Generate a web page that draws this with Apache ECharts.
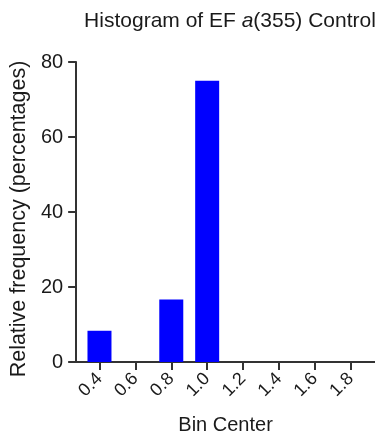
<!DOCTYPE html>
<html>
<head>
<meta charset="utf-8">
<script src="https://cdn.jsdelivr.net/npm/echarts@6/dist/echarts.min.js"></script>
<style>
html,body{margin:0;padding:0;background:#fff;}
#chart{width:375px;height:446px;}
</style>
</head>
<body>
<div id="chart"></div>
<script>
const binCenters = [0.4, 0.6, 0.8, 1.0, 1.2, 1.4, 1.6, 1.8];
const relFreq = [8.33, 0, 16.67, 75, 0, 0, 0, 0];
const yTicks = [0, 20, 40, 60, 80];
const xTickValues = [0.4, 0.6, 0.8, 1.0, 1.2, 1.4, 1.6, 1.8];

const FONT = 'Liberation Sans, Arial, Helvetica, sans-serif';
const AX = '#333333';

const chart = echarts.init(document.getElementById('chart'), null, {renderer: 'canvas'});
chart.setOption({
  animation: false,
  backgroundColor: '#ffffff',
  title: {
    text: '{n|Histogram of EF }{i|a}{n|(355) Control}',
    left: 225, textAlign: 'center',
    top: 6,
    textStyle: {
      fontWeight: 'normal',
      rich: {
        n: {fontFamily: FONT, fontSize: 21, fontWeight: 'normal', color: '#1a1a1a'},
        i: {fontFamily: FONT, fontSize: 21, fontWeight: 'normal', fontStyle: 'italic', color: '#1a1a1a'}
      }
    }
  },
  grid: {left: 76, right: 0, top: 62, bottom: 84, containLabel: false},
  xAxis: {
    type: 'value',
    min: 0.27, max: 1.935,
    name: 'Bin Center', nameLocation: 'middle', nameGap: 53,
    nameTextStyle: {fontFamily: FONT, fontSize: 20, color: '#1a1a1a'},
    axisLine: {show: true, lineStyle: {color: AX, width: 2}},
    axisTick: {show: true, length: 8, lineStyle: {color: AX, width: 2}, customValues: xTickValues},
    axisLabel: {
      rotate: 45, margin: 14, fontFamily: FONT, fontSize: 18, color: '#1a1a1a',
      customValues: xTickValues,
      formatter: v => v.toFixed(1)
    },
    splitLine: {show: false}
  },
  yAxis: {
    type: 'value', min: 0, max: 80, interval: 20,
    name: 'Relative frequency (percentages)', nameLocation: 'middle', nameGap: 46,
    nameTextStyle: {fontFamily: FONT, fontSize: 21.5, color: '#1a1a1a', padding: [0, 14, 0, 0]},
    axisLine: {show: true, lineStyle: {color: AX, width: 2}},
    axisTick: {show: true, length: 8, lineStyle: {color: AX, width: 2}},
    axisLabel: {margin: 13, fontFamily: FONT, fontSize: 20, color: '#1a1a1a'},
    splitLine: {show: false}
  },
  series: [{
    type: 'bar',
    barWidth: 24,
    data: binCenters.map((c, i) => [c, relFreq[i]]),
    itemStyle: {color: '#0000ff', borderWidth: 0}
  }]
});
</script>
</body>
</html>
